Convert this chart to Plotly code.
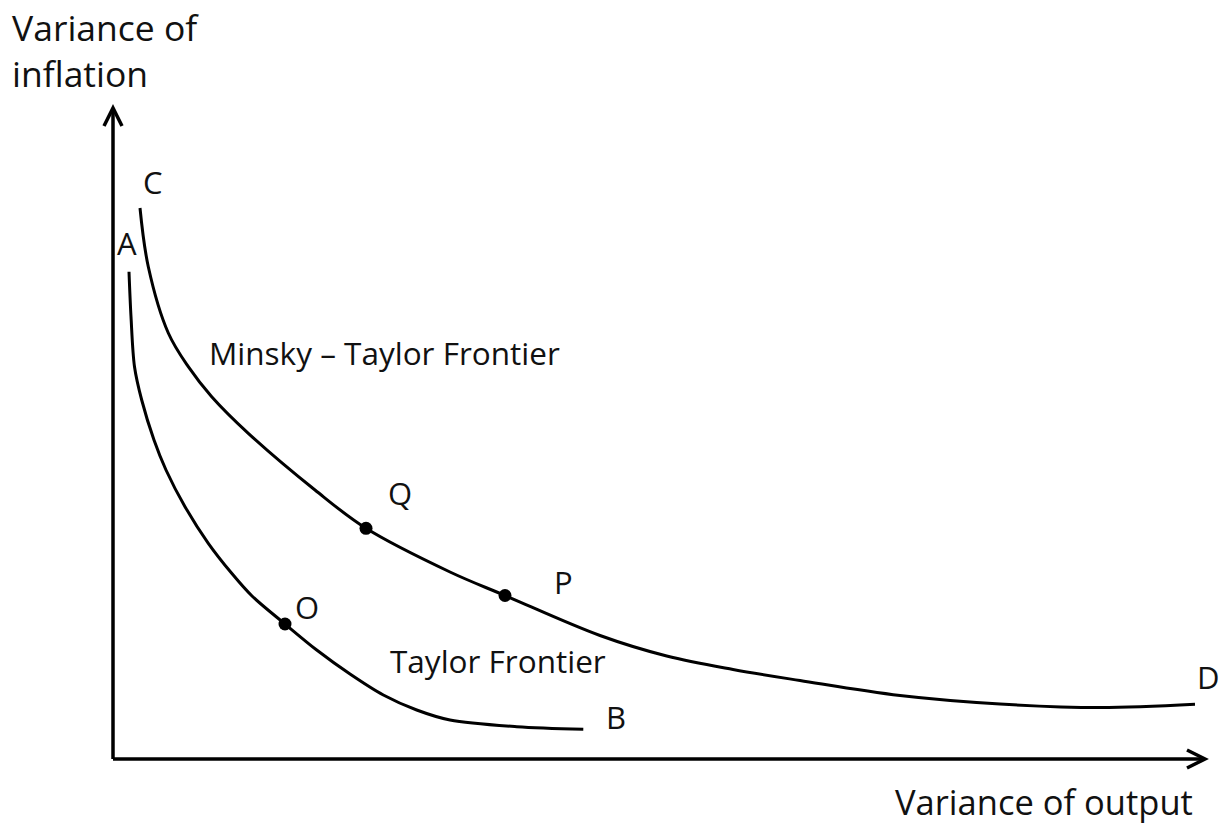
import plotly.graph_objects as go

# Diagram coordinates (arbitrary units, origin at axes corner)
mt_x = [27, 35.3, 55.3, 75.3, 98.7, 135.3, 202, 253, 337, 392, 487, 553.7, 620, 687, 787, 887, 987, 1082]
mt_y = [551, 492.3, 426, 392.3, 362.3, 325.7, 269, 230.7, 187, 163.5, 123.5, 103, 89.5, 78.5, 63.5, 55, 51.5, 54.7]

t_x = [16, 18, 21.5, 28.7, 41, 53, 72, 95.3, 118.7, 139, 172, 203.7, 237, 270.3, 303.7, 337, 403.7, 470.3]
t_y = [487.3, 442.3, 392.3, 359, 319, 289, 252.3, 215.7, 185.7, 163, 135, 109, 85, 64, 49, 39, 32.3, 29.7]

pt_names = ["Q", "P", "O"]
pt_x = [253, 392, 172]
pt_y = [230.7, 163.5, 135]

letters = ["C", "A", "Q", "P", "O", "B", "D"]
letter_x = [40, 14, 287, 450, 194, 503, 1095]
letter_y = [577, 516, 266, 177, 152, 42, 82]

FONT = "Open Sans"
INK = "#111111"

fig = go.Figure()
fig.add_trace(go.Scatter(x=mt_x, y=mt_y, mode="lines",
                         line=dict(color="black", width=3, shape="spline", smoothing=1.0),
                         hoverinfo="skip", showlegend=False))
fig.add_trace(go.Scatter(x=t_x, y=t_y, mode="lines",
                         line=dict(color="black", width=3, shape="spline", smoothing=0.9),
                         hoverinfo="skip", showlegend=False))
fig.add_trace(go.Scatter(x=pt_x, y=pt_y, mode="markers", text=pt_names,
                         marker=dict(color="black", size=13),
                         showlegend=False))

# axes with open arrowheads
ax_len_y = 651
ax_len_x = 1092
shapes = [
    dict(type="line", x0=0, y0=0, x1=0, y1=ax_len_y, line=dict(color="black", width=3.5)),
    dict(type="line", x0=0, y0=0, x1=ax_len_x, y1=0, line=dict(color="black", width=3.5)),
    dict(type="path", path=f"M -9 {ax_len_y-18} L 0 {ax_len_y} L 9 {ax_len_y-18}",
         line=dict(color="black", width=3.5)),
    dict(type="path", path=f"M {ax_len_x-18} 9 L {ax_len_x} 0 L {ax_len_x-18} -9",
         line=dict(color="black", width=3.5)),
]

annotations = []
for s, x, y in zip(letters, letter_x, letter_y):
    annotations.append(dict(x=x, y=y, text=s, showarrow=False, xanchor="center", yanchor="middle",
                            font=dict(family=FONT, size=31, color=INK)))
annotations += [
    dict(x=-103, y=732, text="Variance of", showarrow=False, xanchor="left", yanchor="middle",
         font=dict(family=FONT, size=35.5, color=INK)),
    dict(x=-103, y=686, text="inflation", showarrow=False, xanchor="left", yanchor="middle",
         font=dict(family=FONT, size=35.5, color=INK)),
    dict(x=1082, y=-42, text="Variance of output", showarrow=False, xanchor="right", yanchor="middle",
         font=dict(family=FONT, size=34.5, color=INK)),
    dict(x=94, y=407, text="Minsky – Taylor Frontier", showarrow=False, xanchor="left", yanchor="middle",
         font=dict(family=FONT, size=31.5, color=INK)),
    dict(x=275, y=99, text="Taylor Frontier", showarrow=False, xanchor="left", yanchor="middle",
         font=dict(family=FONT, size=31.5, color=INK)),
]

fig.update_layout(
    width=1225, height=824,
    margin=dict(l=0, r=0, t=0, b=0),
    paper_bgcolor="white", plot_bgcolor="white",
    xaxis=dict(range=[-113, 1112], visible=False, fixedrange=True),
    yaxis=dict(range=[-65, 759], visible=False, fixedrange=True),
    shapes=shapes, annotations=annotations,
    showlegend=False,
)
fig.write_html("out.html", post_script="document.body.style.margin='0';",
               config={"displayModeBar": False})
